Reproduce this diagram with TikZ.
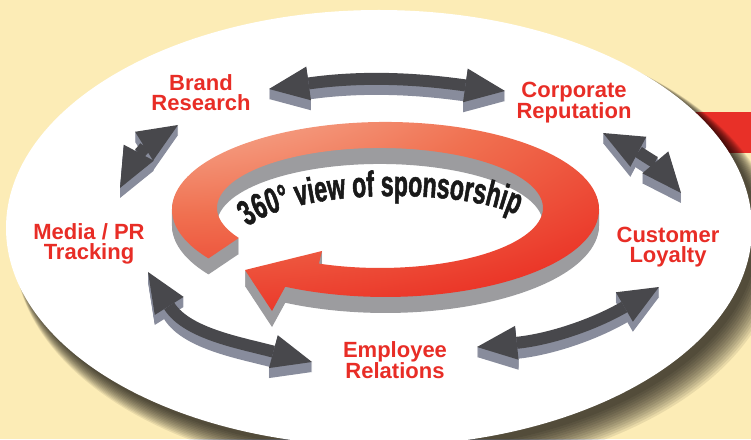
\documentclass[tikz,border=0pt]{standalone}
\usepackage{fontspec}
\setmainfont{Liberation Sans}
\newfontfamily\RingFont{Liberation Sans Bold}[FakeStretch=0.64, FakeBold=1.4]
\usetikzlibrary{arrows.meta,decorations.text}

\definecolor{Cream}{RGB}{252,236,182}
\definecolor{BandRed}{RGB}{232,48,40}
\definecolor{TopicRed}{RGB}{232,45,38}
\definecolor{ArrowTop}{RGB}{72,72,76}
\definecolor{ArrowSide}{RGB}{136,140,156}
\definecolor{RingWall}{RGB}{156,156,159}
\definecolor{RingLight}{RGB}{253,242,236}
\definecolor{RingPink}{RGB}{246,176,150}
\definecolor{RingOrange}{RGB}{240,112,80}
\definecolor{RingRed}{RGB}{234,48,36}

\pgfdeclareradialshading{RingShade}{\pgfpoint{-30bp}{46bp}}{%
  color(0bp)=(RingLight); color(16bp)=(RingPink); color(36bp)=(RingOrange);
  color(58bp)=(RingRed); color(150bp)=(RingRed)}

% top face of the big round arrow
\newcommand{\RingFace}{(208.5,180.6)
  arc[start angle=214, end angle=-118, x radius=213.5, y radius=87.5]
  -- (272,128) -- (245,169) -- (322,188) -- (318.9,175.4)
  arc[start angle=-112, end angle=210, x radius=163, y radius=60] -- cycle}

\tikzset{
  topic/.style={font=\bfseries\fontsize{22}{20}\selectfont, text=TopicRed, align=center, inner sep=0pt},
  arrowtop/.style={draw=ArrowTop, line width=12pt, >={Triangle[length=40pt,width=34pt,line width=0pt]}, <->},
  arrowside/.style={arrowtop, draw=ArrowSide},
}

\begin{document}
\begin{tikzpicture}[x=1pt,y=1pt]
	\useasboundingbox (0,0) rectangle (751,439);
	\clip (0,0) rectangle (751,439); % Clips the picture...
	\fill[Cream] (0,0) rectangle (751,439);
	\fill[BandRed] (690,286) rectangle (751,327);

	% soft shadow under the board
	\foreach \k in {0,...,12}
		\fill[black, opacity=.08] (385+\k,205-1.2*\k) ellipse[x radius=373+.8*\k, y radius=218+.8*\k];
	\fill[white] (379,211) ellipse[x radius=373, y radius=218];

	% round arrow: walls first, then the top face
	\foreach \d in {16,...,1}
		\fill[RingWall, yshift=-\d pt] \RingFace;
	\shade[shading=RingShade] \RingFace;
	\path[decorate, decoration={text along path, text align=center, text color=black!90,
		text={|\RingFont\fontsize{36}{36}\selectfont|360° view of sponsorship}}]
		(240,205) .. controls (280,253) and (475,253) .. (526,219);

	% topics
	\node[topic] (BrandResearch)       at (201,346)   {Brand\\Research};
	\node[topic] (CorporateReputation) at (574,336.5) {Corporate\\Reputation};
	\node[topic] (CustomerLoyalty)     at (668,192)   {Customer\\Loyalty};
	\node[topic] (EmployeeRelations)   at (395,79)    {Employee\\Relations};
	\node[topic] (MediaTracking)       at (89,195)    {Media / PR\\Tracking};

	% ends of the double arrows
	\coordinate (BrandCorpA) at (269,350);
	\coordinate (BrandCorpB) at (505,348);
	\coordinate (MediaBrandA) at (120,251);
	\coordinate (MediaBrandB) at (178,314);
	\coordinate (CorpCustA) at (603,306);
	\coordinate (CorpCustB) at (681,246);
	\coordinate (EmplCustA) at (477,92);
	\coordinate (EmplCustB) at (659,152);
	\coordinate (MediaEmplA) at (148,167);
	\coordinate (MediaEmplB) at (312,77);

	\foreach \Tail/\Head/\Out/\In in {BrandCorpA/BrandCorpB/8/172, MediaBrandA/MediaBrandB/62/212,
			CorpCustA/CorpCustB/-28/130, EmplCustA/EmplCustB/6/210, MediaEmplA/MediaEmplB/-58/165}{
		\foreach \d in {10,...,1}
			\draw[arrowside, transform canvas={yshift=-\d pt}] (\Tail) to[out=\Out,in=\In] (\Head);
		\draw[arrowtop] (\Tail) to[out=\Out,in=\In] (\Head);
	}
\end{tikzpicture}
\end{document}
